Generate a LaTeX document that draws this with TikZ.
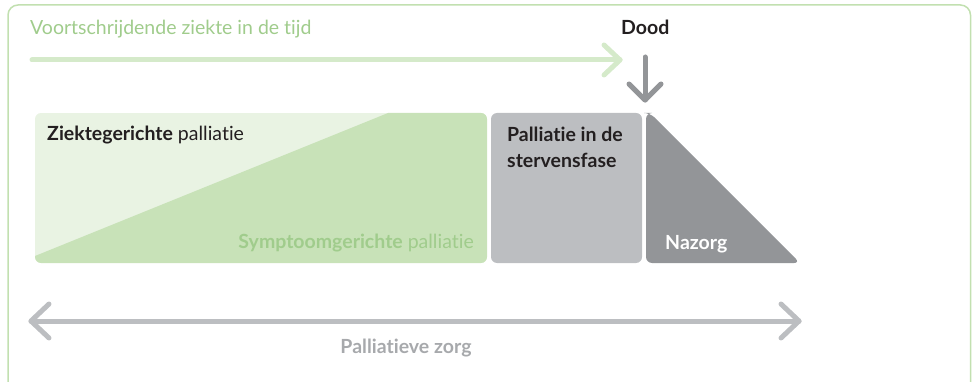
\documentclass[tikz,border=0pt]{standalone}
\usepackage{fontspec}
\setmainfont{Lato}[Ligatures={NoCommon,NoRare,NoContextual}]
\definecolor{framegreen}{HTML}{C2E0B0}
\definecolor{arrowgreen}{HTML}{D5EACA}
\definecolor{lightgreen}{HTML}{E9F3E3}
\definecolor{midgreen}{HTML}{C8E2B8}
\definecolor{textgreen}{HTML}{A0CC8C}
\definecolor{lightgray}{HTML}{BCBEC1}
\definecolor{darkgray}{HTML}{939598}
\definecolor{textdark}{HTML}{231F20}
\definecolor{labelgray}{HTML}{A7A9AC}
\tikzset{
  lbl/.style={inner sep=0pt, anchor=base west, font=\fontsize{19.5}{23}\selectfont},
  blbl/.style={lbl, font=\fontsize{19.5}{23}\selectfont\bfseries},
  thickarrow/.style={line width=5pt, line cap=round, line join=round},
}
\begin{document}
\begin{tikzpicture}[x=1pt,y=-1pt]
\useasboundingbox (0,0) rectangle (972,382);
\clip (0,0) rectangle (972,382);
% frame
\draw[framegreen, line width=1.5pt, rounded corners=10pt] (8,5) rectangle (970.5,400);
% top texts
\node[lbl, text=textgreen] (title) at (30,35) {Voortschrijdende ziekte in de tijd};
\node[blbl, text=textdark] (dood) at (621,35) {Dood};
% green arrow
\coordinate (gs) at (32,60);
\coordinate (ge) at (620,60);
\draw[thickarrow, arrowgreen] (gs) -- (ge);
\draw[thickarrow, arrowgreen] (604,45) -- (ge) -- (604,75);
% gray down arrow
\coordinate (ds) at (645,57);
\coordinate (de) at (645,100);
\draw[thickarrow, darkgray] (ds) -- (de);
\draw[thickarrow, darkgray] (629,84) -- (de) -- (661,84);
% green box
\begin{scope}
  \clip[rounded corners=6pt] (35,113) rectangle (487,263);
  \fill[lightgreen] (35,113) rectangle (487,263);
  \fill[midgreen] (35,256) -- (388,113) -- (487,113) -- (487,263) -- (35,263) -- cycle;
\end{scope}
\node[lbl, text=textdark] (ziekte) at (47,141) {\textbf{Ziektegerichte} palliatie};
\node[lbl, text=textgreen, anchor=base east] (symptoom) at (474,249) {\textbf{Symptoomgerichte} palliatie};
% gray box
\fill[lightgray, rounded corners=6pt] (491,113) rectangle (642,263);
\node[blbl, text=textdark] (sterf1) at (507,142) {Palliatie in de};
\node[blbl, text=textdark] (sterf2) at (507,168) {stervensfase};
% dark triangle
\fill[darkgray, rounded corners=6pt] (646,263) -- (646,113) -- (650,113) -- (800,263) -- cycle;
\node[blbl, text=white] (nazorg) at (665,250) {Nazorg};
% bottom double arrow
\coordinate (bl) at (31,321);
\coordinate (br) at (799,321);
\draw[thickarrow, lightgray] (bl) -- (br);
\draw[thickarrow, lightgray] (49,304) -- (bl) -- (49,338);
\draw[thickarrow, lightgray] (781,304) -- (br) -- (781,338);
\node[blbl, text=labelgray, anchor=base] (pz) at (406,353) {Palliatieve zorg};
\end{tikzpicture}
\end{document}
